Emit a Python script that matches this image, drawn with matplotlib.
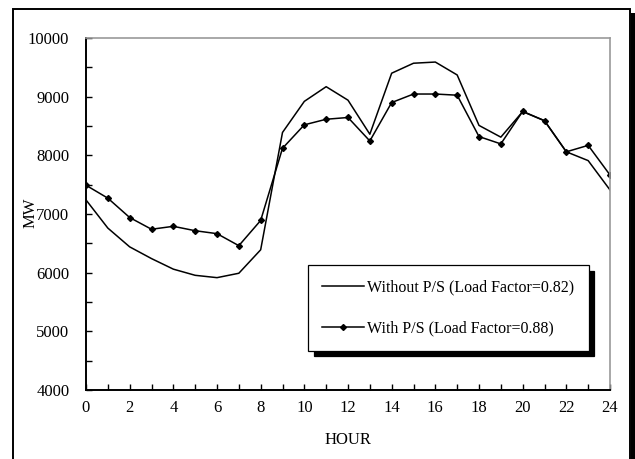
import numpy as np
import matplotlib.pyplot as plt
from matplotlib.patches import Rectangle
from matplotlib.ticker import MultipleLocator

plt.rcParams['font.family'] = ['Liberation Serif', 'DejaVu Serif']

hours = list(range(25))
without_ps = [7240, 6760, 6440, 6240, 6060, 5955, 5915, 5990, 6390, 8390, 8920, 9170, 8940,
              8360, 9400, 9570, 9590, 9370, 8510, 8310, 8745, 8590, 8060, 7910, 7410]
with_ps = [7490, 7270, 6940, 6740, 6790, 6715, 6665, 6460, 6890, 8120, 8520, 8615, 8645,
           8245, 8900, 9045, 9045, 9025, 8320, 8195, 8750, 8590, 8060, 8170, 7665]
labels = ["Without P/S (Load Factor=0.82)", "With P/S (Load Factor=0.88)"]


fig = plt.figure(figsize=(6.35, 4.59), dpi=100)

# outer frame with shadow on the right
fig.patches.append(Rectangle((13 / 635, -0.05), 617 / 635, 1 - 9.5 / 459 + 0.05,
                             transform=fig.transFigure, fill=False, edgecolor='black', lw=1.4))
fig.patches.append(Rectangle((630.5 / 635, -0.05), 4.5 / 635, 1 - 13 / 459 + 0.05,
                             transform=fig.transFigure, facecolor='black', edgecolor='none'))

ax = fig.add_axes([86 / 635, 1 - 390 / 459, 524 / 635, 352 / 459])

ax.plot(hours, without_ps, color='black', lw=1.1, label=labels[0])
ax.plot(hours, with_ps, color='black', lw=1.1, marker='D', markersize=3, label=labels[1])

ax.set_xlim(0, 24)
ax.set_ylim(4000, 10000)
ax.xaxis.set_major_locator(MultipleLocator(2))
ax.xaxis.set_minor_locator(MultipleLocator(1))
ax.yaxis.set_major_locator(MultipleLocator(1000))
ax.yaxis.set_minor_locator(MultipleLocator(500))
ax.tick_params(which='both', direction='in', top=False, right=False, labelsize=12, width=1, length=4)
ax.tick_params(axis='x', which='both', pad=7)
ax.tick_params(axis='y', which='both', pad=12)

for s in ['top', 'right']:
    ax.spines[s].set_color('#999999')
    ax.spines[s].set_linewidth(1.2)
for s in ['left', 'bottom']:
    ax.spines[s].set_color('black')
    ax.spines[s].set_linewidth(1.4)

ax.set_xlabel("HOUR", fontsize=12)
ax.set_ylabel("MW", fontsize=12)
ax.xaxis.set_label_coords(0.5, -(432 - 390) / 352)
ax.yaxis.set_label_coords(-(86 - 39) / 524, (390 - 213) / 352)

leg = ax.legend(loc='upper left', bbox_to_anchor=((308 - 86) / 524, 1 - (265 - 38) / 352),
                bbox_transform=ax.transAxes, fontsize=11.5, frameon=True, fancybox=False,
                labelspacing=1.55, handlelength=2.6, handletextpad=0.2, borderpad=0.9,
                borderaxespad=0,
                shadow={'color': 'black', 'alpha': 1, 'ox': 4, 'oy': -4})
leg.get_frame().set_edgecolor('black')
leg.get_frame().set_linewidth(0.9)
leg.get_frame().set_alpha(1)

plt.savefig('out.png', dpi=100)
